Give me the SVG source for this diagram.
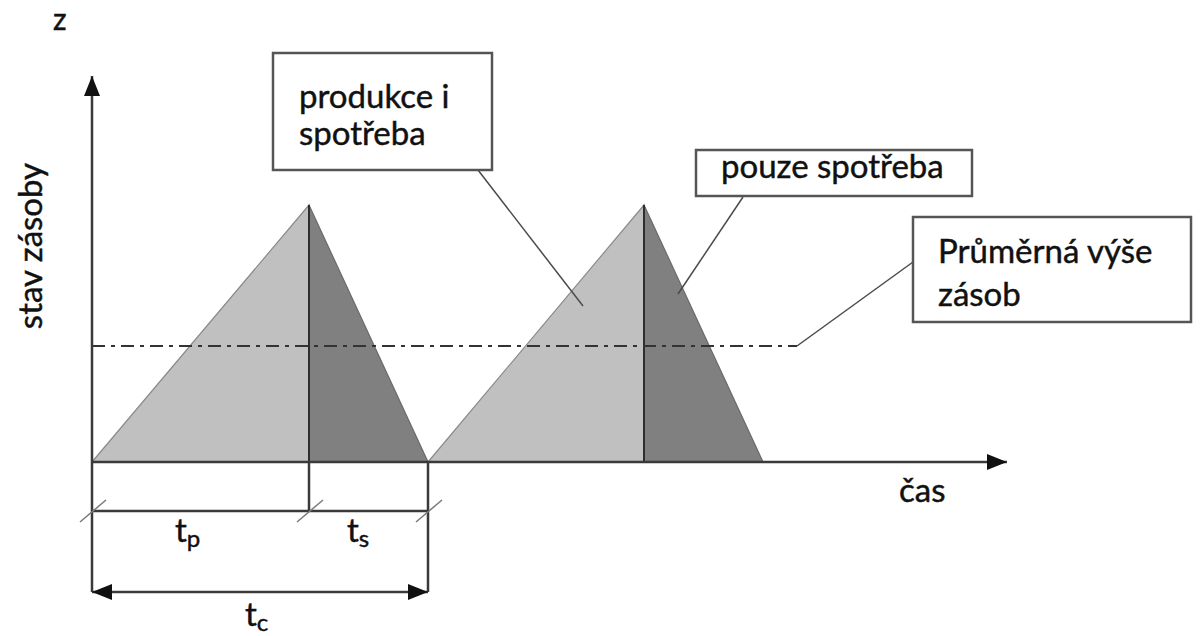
<svg xmlns="http://www.w3.org/2000/svg" width="1202" height="636" viewBox="0 0 1202 636">
  <defs>
    <style>
      .lbl { font-family: Lato, "Open Sans", "Liberation Sans", sans-serif; fill: #111111; stroke: #111111; stroke-width: 0.45; }
      .box { fill: #ffffff; stroke: #555555; stroke-width: 2.5; }
      .axis { stroke: #3a3a3a; stroke-width: 2.5; fill: none; }
      .leader { stroke: #4a4a4a; stroke-width: 1.5; fill: none; }
      .light { fill: #c0c0c0; stroke: #8a8a8a; stroke-width: 1.2; }
      .dark { fill: #808080; stroke: #6a6a6a; stroke-width: 1.2; }
      .divider { stroke: #2e2e2e; stroke-width: 2; }
      .tick { stroke: #7a7a7a; stroke-width: 1.5; }
      .avg { stroke: #333333; stroke-width: 1.8; stroke-dasharray: 13 6 4 6; fill: none; }
    </style>
    <marker id="arrowEnd" viewBox="0 0 20 16" refX="20" refY="8" markerWidth="20" markerHeight="16" markerUnits="userSpaceOnUse" orient="auto">
      <path d="M0,0 L20,8 L0,16 Z" fill="#111111"/>
    </marker>
    <marker id="arrowStart" viewBox="0 0 20 16" refX="0" refY="8" markerWidth="20" markerHeight="16" markerUnits="userSpaceOnUse" orient="auto">
      <path d="M20,0 L0,8 L20,16 Z" fill="#111111"/>
    </marker>
  </defs>

  <rect x="0" y="0" width="1202" height="636" fill="#ffffff"/>

  <text class="lbl" x="53" y="30" font-size="30">z</text>

  <!-- stock cycles -->
  <g id="cycle1">
    <polygon class="light" points="92,462 309,205 309,462"/>
    <polygon class="dark" points="309,205 428,462 309,462"/>
    <line class="divider" x1="309" y1="205" x2="309" y2="462"/>
  </g>
  <g id="cycle2">
    <polygon class="light" points="428,462 644,205 644,462"/>
    <polygon class="dark" points="644,205 763,462 644,462"/>
    <line class="divider" x1="644" y1="205" x2="644" y2="462"/>
  </g>

  <!-- average stock level -->
  <g id="average-line">
    <line class="avg" x1="92" y1="346" x2="797" y2="346"/>
  </g>

  <!-- axes -->
  <g id="axes">
    <line class="axis" x1="92" y1="592" x2="92" y2="76" marker-end="url(#arrowEnd)"/>
    <line class="axis" x1="92" y1="462" x2="1007" y2="462" marker-end="url(#arrowEnd)"/>
    <text class="lbl" font-size="33" text-anchor="middle" transform="translate(42,246) rotate(-90)">stav zásoby</text>
    <text class="lbl" x="899" y="502" font-size="33">čas</text>
  </g>

  <!-- connectors: leaders and dimension lines -->
  <g id="connectors">
    <line class="leader" x1="478" y1="170" x2="583" y2="306"/>
    <line class="leader" x1="743" y1="197" x2="678" y2="294"/>
    <line class="leader" x1="797" y1="346" x2="913" y2="262"/>

    <line class="axis" x1="309" y1="462" x2="309" y2="511" stroke-width="2"/>
    <line class="axis" x1="428" y1="462" x2="428" y2="592" stroke-width="2"/>
    <line class="axis" x1="92" y1="511" x2="428" y2="511" stroke-width="2"/>
    <line class="tick" x1="80" y1="522" x2="106" y2="500"/>
    <line class="tick" x1="297" y1="522" x2="323" y2="500"/>
    <line class="tick" x1="416" y1="522" x2="442" y2="500"/>
    <line class="axis" x1="92" y1="592" x2="428" y2="592" marker-start="url(#arrowStart)" marker-end="url(#arrowEnd)"/>
  </g>

  <g id="dim-labels">
    <text class="lbl" x="175" y="542" font-size="33">t<tspan font-size="24" dy="5">p</tspan></text>
    <text class="lbl" x="347" y="542" font-size="33">t<tspan font-size="24" dy="5">s</tspan></text>
    <text class="lbl" x="245" y="626" font-size="33">t<tspan font-size="24" dy="5">c</tspan></text>
  </g>

  <!-- callout boxes -->
  <g id="box-produkce">
    <rect class="box" x="273" y="53" width="219" height="117"/>
    <text class="lbl" x="299" y="108" font-size="33">produkce i</text>
    <text class="lbl" x="299" y="145" font-size="33">spotřeba</text>
  </g>
  <g id="box-pouze">
    <rect class="box" x="696" y="150" width="276" height="46"/>
    <text class="lbl" x="721" y="178" font-size="33">pouze spotřeba</text>
  </g>
  <g id="box-prumer">
    <rect class="box" x="913" y="217" width="278" height="105"/>
    <text class="lbl" x="938" y="263" font-size="33">Průměrná výše</text>
    <text class="lbl" x="938" y="306" font-size="33">zásob</text>
  </g>
</svg>
